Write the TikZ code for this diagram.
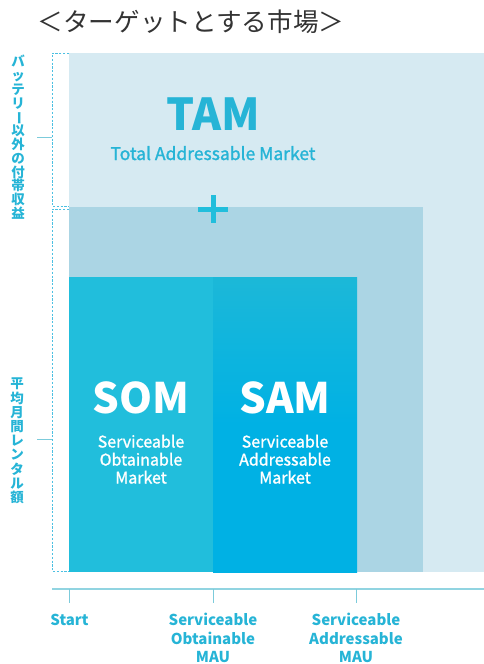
\documentclass[tikz,border=0pt]{standalone}
\usepackage{fontspec}
\usepackage{graphicx}
\setmainfont{Noto Sans CJK JP}
\newfontfamily\medfont{Noto Sans CJK JP}[FakeBold=1.3]
\definecolor{tamfill}{HTML}{D6EAF2}
\definecolor{medfill}{HTML}{ABD5E4}
\definecolor{somfill}{HTML}{21BEDC}
\definecolor{samfill}{HTML}{00B1E4}
\definecolor{samtop}{HTML}{1CB8D8}
\definecolor{cyantext}{HTML}{26B4D6}
\definecolor{axiscol}{HTML}{91D4E1}
\definecolor{tickcol}{HTML}{7CCBDB}
\definecolor{dashcol}{HTML}{4CC0E2}
\definecolor{titlecol}{HTML}{333333}
\tikzset{
  rectbox/.style={draw=none, inner sep=0pt, outer sep=0pt, anchor=north west},
  bigtxt/.style={inner sep=0pt, anchor=base, font=\fontsize{42}{42}\selectfont\bfseries},
  desctxt/.style={inner sep=0pt, anchor=base, font=\medfont\fontsize{16}{16}\selectfont},
  axistxt/.style={inner sep=0pt, anchor=base, text=cyantext, font=\fontsize{15}{15}\selectfont\bfseries},
  vtxt/.style={inner sep=0pt, anchor=north, text=cyantext},
  bracket/.style={draw=dashcol, dash pattern=on 2.2pt off 1.6pt, line width=0.9pt},
  sidetick/.style={draw=tickcol, line width=1pt},
  axisline/.style={draw=axiscol, line width=1.6pt},
  axistick/.style={draw=tickcol, line width=1pt},
}
\newcommand\vlong{\smash{\rotatebox[origin=c]{-90}{ー}}}
\newcommand\vstack[2]{\vbox{\baselineskip=#1\lineskiplimit=-\maxdimen\lineskip=0pt\halign{\hfil##\hfil\cr #2\crcr}}}
\begin{document}
\begin{tikzpicture}[x=1pt,y=-1pt]
\useasboundingbox (0,0) rectangle (484,664);
% title
\node[inner sep=0pt, anchor=base, text=titlecol, font=\fontsize{25.6}{25.6}\selectfont] (title) at (191,31) {＜ターゲットとする市場＞};
% rectangles
\node[rectbox, fill=tamfill, minimum width=415pt, minimum height=519pt] (tam) at (69,53) {};
\node[rectbox, fill=medfill, minimum width=354pt, minimum height=365pt] (med) at (69,207) {};
\node[rectbox, fill=somfill, minimum width=144pt, minimum height=295pt] (som) at (69,277) {};
\node[rectbox, top color=samtop, bottom color=samfill, middle color=samfill, minimum width=144pt, minimum height=295pt] (sam) at (213,277) {};
% TAM texts
\node[bigtxt, text=cyantext, font=\fontsize{44}{44}\selectfont\bfseries] (tamlbl) at (213,130) {TAM};
\node[inner sep=0pt, anchor=base, text=cyantext, font=\medfont\fontsize{17.5}{17.5}\selectfont] (tamdesc) at (213,160) {Total Addressable Market};
% plus sign
\coordinate (pl) at (198,209); \coordinate (pr) at (228,209);
\coordinate (pt) at (213,195); \coordinate (pb) at (213,223);
\draw[somfill, line width=5pt] (pl) -- (pr);
\draw[somfill, line width=5pt] (pt) -- (pb);
% SOM
\node[bigtxt, text=white] (somlbl) at (141,413) {SOM};
\node[desctxt, text=white] (som1) at (141,447.5) {Serviceable};
\node[desctxt, text=white] (som2) at (141,465.5) {Obtainable};
\node[desctxt, text=white] (som3) at (141,483.5) {Market};
% SAM
\node[bigtxt, text=white] (samlbl) at (285,413) {SAM};
\node[desctxt, text=white] (sam1) at (285,447.5) {Serviceable};
\node[desctxt, text=white] (sam2) at (285,465.5) {Addressable};
\node[desctxt, text=white] (sam3) at (285,483.5) {Market};
% left brackets
\coordinate (b1a) at (69,53); \coordinate (b1b) at (52,53);
\coordinate (b1c) at (52,206); \coordinate (b1d) at (69,206);
\draw[bracket] (b1a) -- (b1b) -- (b1c) -- (b1d);
\coordinate (b2a) at (69,209); \coordinate (b2b) at (52,209);
\coordinate (b2c) at (52,571); \coordinate (b2d) at (69,571);
\draw[bracket] (b2a) -- (b2b) -- (b2c) -- (b2d);
\coordinate (t1a) at (37,137); \coordinate (t1b) at (52,137);
\draw[sidetick] (t1a) -- (t1b);
\coordinate (t2a) at (37,439); \coordinate (t2b) at (52,439);
\draw[sidetick] (t2a) -- (t2b);
% vertical texts
\node[vtxt, font=\fontsize{13.5}{13.8}\selectfont\bfseries] (vt1) at (18,55) {\vstack{13.8pt}{バ\cr ッ\cr テ\cr リ\cr \vlong\cr 以\cr 外\cr の\cr 付\cr 帯\cr 収\cr 益}};
\node[vtxt, font=\fontsize{13.5}{14.2}\selectfont\bfseries] (vt2) at (17,378) {\vstack{14.2pt}{平\cr 均\cr 月\cr 間\cr レ\cr ン\cr タ\cr ル\cr 額}};
% axis
\coordinate (ax0) at (52,589); \coordinate (ax1) at (484,589);
\draw[axisline] (ax0) -- (ax1);
\coordinate (k1a) at (69.5,589); \coordinate (k1b) at (69.5,603);
\coordinate (k2a) at (213,589); \coordinate (k2b) at (213,603);
\coordinate (k3a) at (356,589); \coordinate (k3b) at (356,603);
\draw[axistick] (k1a) -- (k1b);
\draw[axistick] (k2a) -- (k2b);
\draw[axistick] (k3a) -- (k3b);
\node[axistxt] (start) at (69.5,625) {Start};
\node[axistxt] (so1) at (213,625) {Serviceable};
\node[axistxt] (so2) at (213,644) {Obtainable};
\node[axistxt] (so3) at (213,662) {MAU};
\node[axistxt] (sa1) at (356,625) {Serviceable};
\node[axistxt] (sa2) at (356,644) {Addressable};
\node[axistxt] (sa3) at (356,662) {MAU};
\end{tikzpicture}
\end{document}
